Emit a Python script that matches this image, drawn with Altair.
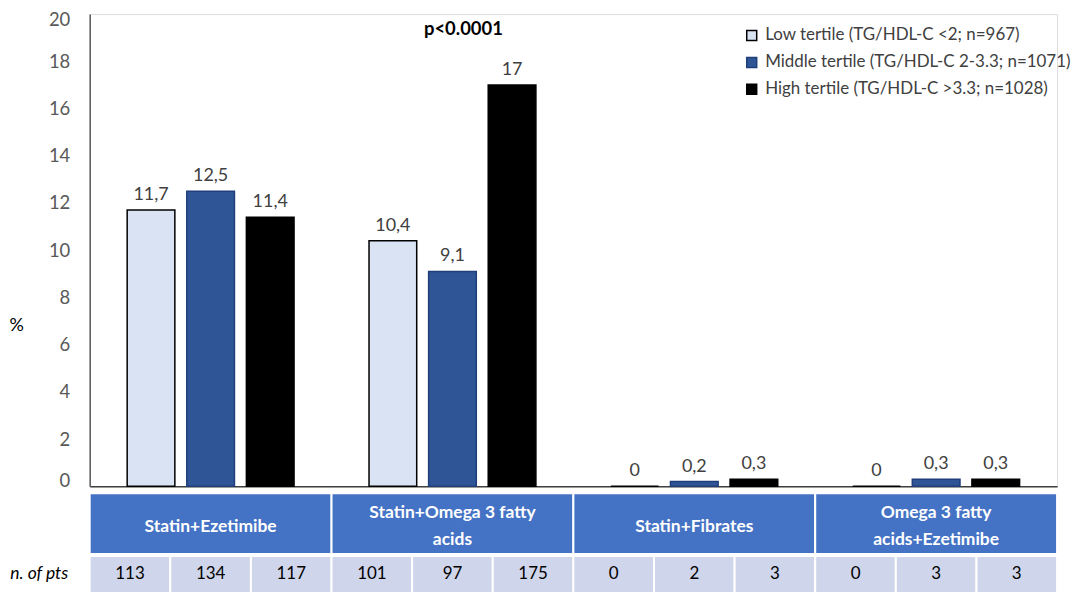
import altair as alt
import pandas as pd

groups = ["Statin+Ezetimibe", "Statin+Omega 3 fatty acids", "Statin+Fibrates", "Omega 3 fatty acids+Ezetimibe"]
header_labels = ["Statin+Ezetimibe", "Statin+Omega  3 fatty\nacids", "Statin+Fibrates", "Omega 3 fatty\nacids+Ezetimibe"]
tertiles = [
    "Low tertile (TG/HDL-C <2; n=967)",
    "Middle tertile (TG/HDL-C 2-3.3; n=1071)",
    "High tertile (TG/HDL-C >3.3; n=1028)",
]
low_pct = [11.7, 10.4, 0, 0]
mid_pct = [12.5, 9.1, 0.2, 0.3]
high_pct = [11.4, 17, 0.3, 0.3]
low_n = [113, 101, 0, 0]
mid_n = [134, 97, 2, 3]
high_n = [117, 175, 3, 3]
y_ticks = [0, 2, 4, 6, 8, 10, 12, 14, 16, 18, 20]
p_text = ["p<0.0001"]
row_label = "n. of pts"

fills = ["#DAE3F3", "#2F5597", "#000000"]
strokes = ["#000000", "#1F3E7A", "#000000"]

rows = []
for gi, g in enumerate(groups):
    pcts = [low_pct[gi], mid_pct[gi], high_pct[gi]]
    ns = [low_n[gi], mid_n[gi], high_n[gi]]
    for t, pv, nv in zip(tertiles, pcts, ns):
        rows.append(dict(group=g, tertile=t, pct=pv, n=nv, row=row_label,
                         label=f"{pv:g}".replace(".", ",")))
df = pd.DataFrame(rows)
hdr = pd.DataFrame({"group": groups, "label": header_labels,
                    "nlines": [s.count("\n") + 1 for s in header_labels]})
pdf = pd.DataFrame({"group": [groups[1]], "text": p_text})

W = 971
FONT = "Lato"

x_bars = alt.X("group:N", sort=groups,
               scale=alt.Scale(paddingInner=0.31, paddingOuter=0.155),
               axis=alt.Axis(labels=False, ticks=False, title=None,
                             domainColor="#404040", domainWidth=1.5))
xo = alt.XOffset("tertile:N", sort=tertiles, scale=alt.Scale(paddingInner=0.2, paddingOuter=0))

base = alt.Chart(df).encode(x=x_bars, xOffset=xo)

bars = base.mark_bar(strokeWidth=1.5).encode(
    y=alt.Y("pct:Q", scale=alt.Scale(domain=[0, 20]),
            axis=alt.Axis(values=y_ticks, grid=False, ticks=False, labelPadding=20,
                          labelFontSize=18.5, labelColor="#595959", labelFont=FONT,
                          labelFlush=True, labelFlushOffset=4,
                          domainColor="#595959", domainWidth=1.5,
                          title="%", titleAngle=0, titleAlign="left", titleBaseline="middle",
                          titleX=-81, titleY=313, titleFontSize=18, titleFontWeight="normal",
                          titleColor="#000000", titleFont=FONT)),
    fill=alt.Fill("tertile:N", sort=tertiles, scale=alt.Scale(domain=tertiles, range=fills),
                  legend=alt.Legend(title=None, orient="none", legendX=656, legendY=13,
                                    symbolType="square", symbolSize=100, symbolStrokeWidth=1.5,
                                    labelFontSize=17, labelColor="#404040", labelFont=FONT,
                                    rowPadding=9, labelOffset=5, labelLimit=400)),
    stroke=alt.Stroke("tertile:N", sort=tertiles, scale=alt.Scale(domain=tertiles, range=strokes),
                      legend=None),
)

labels = base.mark_text(baseline="alphabetic", dy=-10, fontSize=18, color="#404040", font=FONT).encode(
    y="pct:Q", text="label:N")

ptext = alt.Chart(pdf).mark_text(fontWeight="bold", fontSize=18.5, color="#000000", font=FONT,
                                 baseline="middle", dx=11).encode(
    x=alt.X("group:N", sort=groups), y=alt.value(15), text="text:N")

top = alt.layer(bars, labels, ptext).properties(width=W, height=474)

x_tab = alt.X("group:N", sort=groups, scale=alt.Scale(paddingInner=0, paddingOuter=0), axis=None)

hbase = alt.Chart(hdr).encode(x=x_tab)
htext_style = dict(color="white", fontWeight="bold", fontSize=17.5, font=FONT,
                   lineBreak="\n", lineHeight=27, baseline="middle")
header = alt.layer(
    hbase.mark_rect(fill="#4472C4", stroke="white", strokeWidth=2),
    hbase.mark_text(dy=3, **htext_style).encode(text="label:N").transform_filter("datum.nlines == 1"),
    hbase.mark_text(dy=-11, **htext_style).encode(text="label:N").transform_filter("datum.nlines == 2"),
).properties(width=W, height=61)

nbase = alt.Chart(df).encode(
    x=x_tab,
    xOffset=alt.XOffset("tertile:N", sort=tertiles, scale=alt.Scale(paddingInner=0, paddingOuter=0)),
    y=alt.Y("row:N", axis=alt.Axis(title=None, domain=False, ticks=False, labelPadding=22,
                                   labelFontSize=17.5, labelFontStyle="italic", labelColor="#000000",
                                   labelFont=FONT)),
)
ncells = alt.layer(
    nbase.mark_rect(fill="#CFD5EA", stroke="white", strokeWidth=2),
    nbase.mark_text(fontSize=17, color="#000000", font=FONT).encode(text="n:Q"),
).properties(width=W, height=37)

table = alt.vconcat(header, ncells, spacing=2, bounds="flush")

chart = alt.vconcat(top, table, spacing=7, bounds="flush").resolve_scale(
    xOffset="independent"
).properties(
    padding={"left": 0, "top": 0, "right": 5, "bottom": 0}
).configure_view(stroke=None).configure(font=FONT)

chart.save("out.html", embed_options={"renderer": "svg", "actions": False})
